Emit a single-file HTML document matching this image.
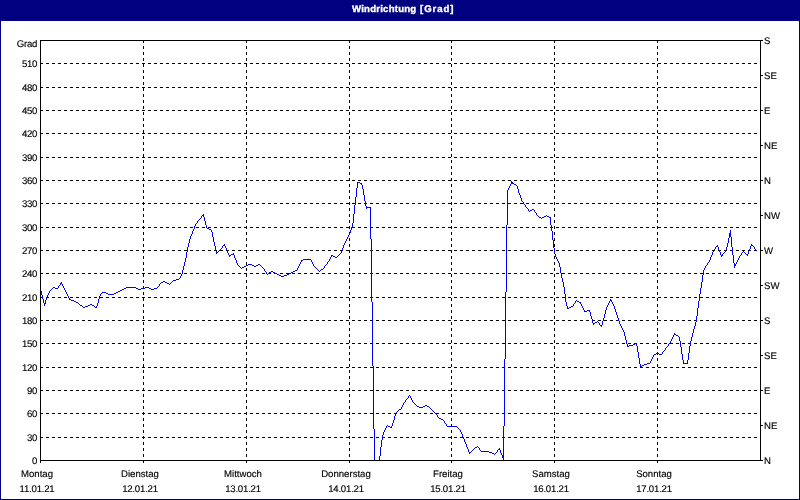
<!DOCTYPE html>
<html><head><meta charset="utf-8"><title>Windrichtung [Grad]</title>
<style>
html,body{margin:0;padding:0;background:#fff;}
body{width:800px;height:500px;overflow:hidden;position:relative;font-family:"Liberation Sans",sans-serif;}
#frame{position:absolute;left:0;top:0;width:798px;height:498px;border:1px solid #000080;background:#fff;}
#title{position:absolute;left:0;top:0;width:800px;height:21px;background:#000080;}
#title span{position:absolute;text-rendering:geometricPrecision;-webkit-text-stroke:0.35px #fff;top:-1px;color:#fff;font-weight:bold;font-size:9.6px;line-height:21px;height:21px;white-space:nowrap;will-change:transform;}
#t1{left:352px;letter-spacing:0.22px;}
#t2{left:420px;letter-spacing:0.95px;}
svg{position:absolute;left:0;top:0;}
.l{position:absolute;will-change:transform;text-rendering:geometricPrecision;-webkit-text-stroke:0.15px #000;font-size:9.6px;line-height:12px;height:12px;color:#000;white-space:nowrap;}
.yl{text-align:right;width:37px;left:0;}
.yr{left:764px;}
.xl{text-align:center;width:80px;letter-spacing:0px;}
.dt{letter-spacing:-0.2px;}
.yl{letter-spacing:-0.3px;}
</style></head><body>
<div id="frame"></div>
<div id="title"><span id="t1">Windrichtung</span><span id="t2">[Grad]</span></div>

<svg width="800" height="500" viewBox="0 0 800 500">
<g shape-rendering="crispEdges" stroke="#000" stroke-width="1" fill="none">
<line x1="40" y1="437.5" x2="757" y2="437.5" stroke-dasharray="3 3"/>
<line x1="40" y1="413.5" x2="757" y2="413.5" stroke-dasharray="3 3"/>
<line x1="40" y1="390.5" x2="757" y2="390.5" stroke-dasharray="3 3"/>
<line x1="40" y1="367.5" x2="757" y2="367.5" stroke-dasharray="3 3"/>
<line x1="40" y1="343.5" x2="757" y2="343.5" stroke-dasharray="3 3"/>
<line x1="40" y1="320.5" x2="757" y2="320.5" stroke-dasharray="3 3"/>
<line x1="40" y1="297.5" x2="757" y2="297.5" stroke-dasharray="3 3"/>
<line x1="40" y1="273.5" x2="757" y2="273.5" stroke-dasharray="3 3"/>
<line x1="40" y1="250.5" x2="757" y2="250.5" stroke-dasharray="3 3"/>
<line x1="40" y1="227.5" x2="757" y2="227.5" stroke-dasharray="3 3"/>
<line x1="40" y1="203.5" x2="757" y2="203.5" stroke-dasharray="3 3"/>
<line x1="40" y1="180.5" x2="757" y2="180.5" stroke-dasharray="3 3"/>
<line x1="40" y1="157.5" x2="757" y2="157.5" stroke-dasharray="3 3"/>
<line x1="40" y1="133.5" x2="757" y2="133.5" stroke-dasharray="3 3"/>
<line x1="40" y1="110.5" x2="757" y2="110.5" stroke-dasharray="3 3"/>
<line x1="40" y1="87.5" x2="757" y2="87.5" stroke-dasharray="3 3"/>
<line x1="40" y1="63.5" x2="757" y2="63.5" stroke-dasharray="3 3"/>
<line x1="143.5" y1="40" x2="143.5" y2="463" stroke-dasharray="3 3"/>
<line x1="246.5" y1="40" x2="246.5" y2="463" stroke-dasharray="3 3"/>
<line x1="349.5" y1="40" x2="349.5" y2="463" stroke-dasharray="3 3"/>
<line x1="451.5" y1="40" x2="451.5" y2="463" stroke-dasharray="3 3"/>
<line x1="554.5" y1="40" x2="554.5" y2="463" stroke-dasharray="3 3"/>
<line x1="657.5" y1="40" x2="657.5" y2="463" stroke-dasharray="3 3"/>
</g>
<path d="M40 290h1v1h-1zM41 291h1v4h-1zM42 295h1v4h-1zM43 299h1v4h-1zM44 303h1v3h-1zM45 300h1v4h-1zM46 297h1v3h-1zM47 295h1v2h-1zM48 293h1v2h-1zM49 291h1v2h-1zM50 290h1v1h-1zM51 289h1v1h-1zM52 288h1v1h-1zM53 287h2v1h-2zM55 288h3v1h-3zM58 286h1v2h-1zM59 285h1v1h-1zM60 283h1v2h-1zM61 282h1v2h-1zM62 284h1v2h-1zM63 286h1v2h-1zM64 288h1v2h-1zM65 290h1v2h-1zM66 292h1v2h-1zM67 294h1v2h-1zM68 296h1v2h-1zM69 298h1v2h-1zM70 299h1v1h-1zM71 300h3v1h-3zM74 301h2v1h-2zM76 302h2v1h-2zM78 303h1v1h-1zM79 304h1v1h-1zM80 305h2v1h-2zM82 306h1v1h-1zM83 307h2v1h-2zM85 306h3v1h-3zM88 305h2v1h-2zM90 304h2v1h-2zM92 305h2v1h-2zM94 306h1v1h-1zM95 307h1v1h-1zM96 306h1v2h-1zM97 303h1v3h-1zM98 299h1v4h-1zM99 296h1v3h-1zM100 294h1v2h-1zM101 293h1v1h-1zM102 292h4v1h-4zM106 293h2v1h-2zM108 294h6v1h-6zM114 293h2v1h-2zM116 292h2v1h-2zM118 291h2v1h-2zM120 290h2v1h-2zM122 289h2v1h-2zM124 288h2v1h-2zM126 287h10v1h-10zM136 288h2v1h-2zM138 289h3v1h-3zM141 288h4v1h-4zM145 287h4v1h-4zM149 288h2v1h-2zM151 289h3v1h-3zM154 288h3v1h-3zM157 287h1v1h-1zM158 286h1v1h-1zM159 284h1v2h-1zM160 283h1v1h-1zM161 282h2v1h-2zM163 281h2v1h-2zM165 282h2v1h-2zM167 283h2v1h-2zM169 284h1v1h-1zM170 283h1v1h-1zM171 282h1v1h-1zM172 281h1v1h-1zM173 280h3v1h-3zM176 279h3v1h-3zM179 278h1v1h-1zM180 276h1v2h-1zM181 274h1v2h-1zM182 270h1v4h-1zM183 266h1v4h-1zM184 262h1v4h-1zM185 258h1v4h-1zM186 252h1v6h-1zM187 247h1v5h-1zM188 243h1v4h-1zM189 239h1v4h-1zM190 236h1v3h-1zM191 234h1v2h-1zM192 231h1v3h-1zM193 229h1v2h-1zM194 226h1v3h-1zM195 224h1v2h-1zM196 223h1v1h-1zM197 221h1v2h-1zM198 220h1v1h-1zM199 219h1v1h-1zM200 218h1v1h-1zM201 216h1v2h-1zM202 215h1v1h-1zM203 214h1v3h-1zM204 217h1v4h-1zM205 221h1v4h-1zM206 225h1v3h-1zM207 228h2v1h-2zM209 229h2v1h-2zM211 230h1v2h-1zM212 232h1v5h-1zM213 237h1v5h-1zM214 242h1v4h-1zM215 246h1v5h-1zM216 251h1v3h-1zM217 252h1v1h-1zM218 251h1v1h-1zM219 250h1v1h-1zM220 249h1v1h-1zM221 248h1v1h-1zM222 246h1v2h-1zM223 245h1v1h-1zM224 244h1v2h-1zM225 246h1v2h-1zM226 248h1v2h-1zM227 250h1v3h-1zM228 253h1v2h-1zM229 255h1v2h-1zM230 255h1v1h-1zM231 254h2v1h-2zM233 253h1v2h-1zM234 255h1v3h-1zM235 258h1v2h-1zM236 260h1v3h-1zM237 263h1v2h-1zM238 265h1v1h-1zM239 266h1v1h-1zM240 267h1v1h-1zM241 268h1v1h-1zM242 267h2v1h-2zM244 266h2v1h-2zM246 265h2v1h-2zM248 264h4v1h-4zM252 265h2v1h-2zM254 266h2v1h-2zM256 265h2v1h-2zM258 264h2v1h-2zM260 265h1v1h-1zM261 266h1v1h-1zM262 267h1v1h-1zM263 268h1v1h-1zM264 269h1v2h-1zM265 271h1v1h-1zM266 272h1v2h-1zM267 274h1v1h-1zM268 273h1v1h-1zM269 272h2v1h-2zM271 271h2v1h-2zM273 272h2v1h-2zM275 273h2v1h-2zM277 274h2v1h-2zM279 275h2v1h-2zM281 276h3v1h-3zM284 275h3v1h-3zM287 274h2v1h-2zM289 273h2v1h-2zM291 272h2v1h-2zM293 271h2v1h-2zM295 270h2v1h-2zM297 268h1v2h-1zM298 266h1v2h-1zM299 264h1v2h-1zM300 262h1v2h-1zM301 260h1v2h-1zM302 260h1v1h-1zM303 259h8v1h-8zM311 260h1v2h-1zM312 262h1v2h-1zM313 264h1v2h-1zM314 266h1v1h-1zM315 267h1v1h-1zM316 268h1v1h-1zM317 269h1v1h-1zM318 270h1v1h-1zM319 271h1v1h-1zM320 270h1v1h-1zM321 269h2v1h-2zM323 268h1v1h-1zM324 266h1v2h-1zM325 265h1v1h-1zM326 264h1v1h-1zM327 262h1v2h-1zM328 261h1v1h-1zM329 259h1v2h-1zM330 257h1v2h-1zM331 255h1v2h-1zM332 255h1v1h-1zM333 256h2v1h-2zM335 257h2v1h-2zM337 256h1v1h-1zM338 255h1v1h-1zM339 254h1v1h-1zM340 253h1v1h-1zM341 251h1v2h-1zM342 248h1v3h-1zM343 245h1v3h-1zM344 243h1v2h-1zM345 241h1v2h-1zM346 239h1v2h-1zM347 237h1v2h-1zM348 235h1v2h-1zM349 233h1v2h-1zM350 230h1v3h-1zM351 227h1v3h-1zM352 223h1v4h-1zM353 214h1v9h-1zM354 205h1v9h-1zM355 197h1v8h-1zM356 188h1v9h-1zM357 182h1v6h-1zM358 182h2v1h-2zM360 183h1v1h-1zM361 183h1v2h-1zM362 185h1v4h-1zM363 189h1v6h-1zM364 195h1v6h-1zM365 201h1v5h-1zM366 206h1v3h-1zM367 207h3v1h-3zM370 207h1v32h-1zM371 239h1v63h-1zM372 302h1v64h-1zM373 366h1v63h-1zM374 429h1v32h-1zM375 460h4v1h-4zM379 456h1v5h-1zM380 447h1v9h-1zM381 440h1v7h-1zM382 435h1v5h-1zM383 432h1v3h-1zM384 430h1v2h-1zM385 428h1v2h-1zM386 426h1v2h-1zM387 425h1v1h-1zM388 426h2v1h-2zM390 427h1v1h-1zM391 426h1v2h-1zM392 423h1v3h-1zM393 420h1v3h-1zM394 416h1v4h-1zM395 413h1v3h-1zM396 412h1v1h-1zM397 411h1v1h-1zM398 410h1v1h-1zM399 409h2v1h-2zM401 407h1v2h-1zM402 405h1v2h-1zM403 403h1v2h-1zM404 402h1v1h-1zM405 400h1v2h-1zM406 399h1v1h-1zM407 398h1v1h-1zM408 396h1v2h-1zM409 395h1v1h-1zM410 396h1v2h-1zM411 398h1v2h-1zM412 400h1v2h-1zM413 402h1v1h-1zM414 403h1v1h-1zM415 404h1v1h-1zM416 405h1v1h-1zM417 406h2v1h-2zM419 407h4v1h-4zM423 406h2v1h-2zM425 405h2v1h-2zM427 406h2v1h-2zM429 407h1v1h-1zM430 408h1v1h-1zM431 409h1v1h-1zM432 410h1v1h-1zM433 411h1v1h-1zM434 412h1v1h-1zM435 413h1v1h-1zM436 414h1v1h-1zM437 415h1v2h-1zM438 417h1v1h-1zM439 418h2v1h-2zM441 419h2v1h-2zM443 420h1v1h-1zM444 421h1v2h-1zM445 423h1v1h-1zM446 424h1v2h-1zM447 426h10v1h-10zM457 427h1v1h-1zM458 428h1v1h-1zM459 429h1v1h-1zM460 430h1v2h-1zM461 432h1v2h-1zM462 434h1v3h-1zM463 437h1v2h-1zM464 439h1v3h-1zM465 442h1v2h-1zM466 444h1v3h-1zM467 447h1v2h-1zM468 449h1v3h-1zM469 452h1v2h-1zM470 452h1v1h-1zM471 451h1v1h-1zM472 450h1v1h-1zM473 449h1v1h-1zM474 448h1v1h-1zM475 447h2v1h-2zM477 446h1v1h-1zM478 447h1v1h-1zM479 448h1v2h-1zM480 450h1v1h-1zM481 451h8v1h-8zM489 452h3v1h-3zM492 453h2v1h-2zM494 454h1v1h-1zM495 453h1v1h-1zM496 452h1v1h-1zM497 450h1v2h-1zM498 449h1v1h-1zM499 448h1v2h-1zM500 450h1v3h-1zM501 453h1v2h-1zM502 455h1v3h-1zM503 426h1v34h-1zM504 359h1v67h-1zM505 292h1v67h-1zM506 225h1v67h-1zM507 190h1v35h-1zM508 188h1v2h-1zM509 186h1v2h-1zM510 184h1v2h-1zM511 181h1v3h-1zM512 182h1v2h-1zM513 183h1v1h-1zM514 184h2v1h-2zM516 185h1v1h-1zM517 186h1v3h-1zM518 189h1v4h-1zM519 193h1v2h-1zM520 195h1v3h-1zM521 198h1v3h-1zM522 201h1v1h-1zM523 202h1v2h-1zM524 204h1v1h-1zM525 205h1v2h-1zM526 207h1v1h-1zM527 208h1v1h-1zM528 209h1v2h-1zM529 211h1v1h-1zM530 210h2v1h-2zM532 209h2v1h-2zM534 210h1v2h-1zM535 212h1v1h-1zM536 213h1v2h-1zM537 215h1v1h-1zM538 216h1v1h-1zM539 217h2v1h-2zM541 218h1v1h-1zM542 217h2v1h-2zM544 216h2v1h-2zM546 215h1v1h-1zM547 216h2v1h-2zM549 217h1v1h-1zM550 217h1v8h-1zM551 225h1v6h-1zM552 231h1v9h-1zM553 240h1v8h-1zM554 248h1v6h-1zM555 254h1v3h-1zM556 257h1v2h-1zM557 259h1v2h-1zM558 261h1v2h-1zM559 263h1v4h-1zM560 267h1v6h-1zM561 273h1v5h-1zM562 278h1v4h-1zM563 282h1v5h-1zM564 287h1v7h-1zM565 294h1v8h-1zM566 302h1v4h-1zM567 306h1v3h-1zM568 308h1v1h-1zM569 307h2v1h-2zM571 306h2v1h-2zM573 304h1v2h-1zM574 303h1v1h-1zM575 301h1v2h-1zM576 300h1v1h-1zM577 301h2v1h-2zM579 302h1v1h-1zM580 302h1v2h-1zM581 304h1v2h-1zM582 306h1v2h-1zM583 308h1v2h-1zM584 310h1v2h-1zM585 311h2v1h-2zM587 310h2v1h-2zM589 310h1v2h-1zM590 312h1v4h-1zM591 316h1v3h-1zM592 319h1v4h-1zM593 323h1v2h-1zM594 323h1v1h-1zM595 322h2v1h-2zM597 321h1v1h-1zM598 322h1v1h-1zM599 323h1v2h-1zM600 325h1v1h-1zM601 325h1v2h-1zM602 321h1v4h-1zM603 318h1v3h-1zM604 314h1v4h-1zM605 310h1v4h-1zM606 307h1v3h-1zM607 305h1v2h-1zM608 303h1v2h-1zM609 301h1v2h-1zM610 299h1v2h-1zM611 300h1v2h-1zM612 302h1v2h-1zM613 304h1v2h-1zM614 306h1v3h-1zM615 309h1v3h-1zM616 312h1v3h-1zM617 315h1v3h-1zM618 318h1v3h-1zM619 321h1v3h-1zM620 324h1v2h-1zM621 326h1v2h-1zM622 328h1v2h-1zM623 330h1v2h-1zM624 332h1v4h-1zM625 336h1v4h-1zM626 340h1v4h-1zM627 344h1v3h-1zM628 346h1v1h-1zM629 345h4v1h-4zM633 344h2v1h-2zM635 343h1v1h-1zM636 343h1v3h-1zM637 346h1v6h-1zM638 352h1v6h-1zM639 358h1v6h-1zM640 364h1v3h-1zM641 366h1v1h-1zM642 365h2v1h-2zM644 364h3v1h-3zM647 363h3v1h-3zM650 361h1v2h-1zM651 359h1v2h-1zM652 357h1v2h-1zM653 355h1v2h-1zM654 354h2v1h-2zM656 353h3v1h-3zM659 354h3v1h-3zM662 352h1v2h-1zM663 351h1v1h-1zM664 350h1v1h-1zM665 348h1v2h-1zM666 347h1v1h-1zM667 346h1v1h-1zM668 344h1v2h-1zM669 343h1v1h-1zM670 341h1v2h-1zM671 339h1v2h-1zM672 337h1v2h-1zM673 335h1v2h-1zM674 333h1v2h-1zM675 334h1v1h-1zM676 335h2v1h-2zM678 336h1v1h-1zM679 337h1v4h-1zM680 341h1v6h-1zM681 347h1v7h-1zM682 354h1v6h-1zM683 360h1v4h-1zM684 363h3v1h-3zM687 360h1v4h-1zM688 353h1v7h-1zM689 346h1v7h-1zM690 341h1v5h-1zM691 337h1v4h-1zM692 333h1v4h-1zM693 329h1v4h-1zM694 326h1v3h-1zM695 322h1v4h-1zM696 316h1v6h-1zM697 308h1v8h-1zM698 301h1v7h-1zM699 294h1v7h-1zM700 288h1v6h-1zM701 282h1v6h-1zM702 275h1v7h-1zM703 270h1v5h-1zM704 268h1v2h-1zM705 266h1v2h-1zM706 265h1v1h-1zM707 263h1v2h-1zM708 262h1v1h-1zM709 260h1v2h-1zM710 257h1v3h-1zM711 255h1v2h-1zM712 252h1v3h-1zM713 250h1v2h-1zM714 249h1v1h-1zM715 247h1v2h-1zM716 246h1v1h-1zM717 245h1v2h-1zM718 247h1v3h-1zM719 250h1v2h-1zM720 252h1v3h-1zM721 255h1v2h-1zM722 254h1v2h-1zM723 253h1v1h-1zM724 252h1v1h-1zM725 250h1v2h-1zM726 247h1v3h-1zM727 243h1v4h-1zM728 238h1v5h-1zM729 233h1v5h-1zM730 230h1v7h-1zM731 237h1v10h-1zM732 247h1v8h-1zM733 255h1v8h-1zM734 263h1v5h-1zM735 264h1v2h-1zM736 262h1v2h-1zM737 260h1v2h-1zM738 258h1v2h-1zM739 256h1v2h-1zM740 255h1v1h-1zM741 253h1v2h-1zM742 252h1v1h-1zM743 251h1v1h-1zM744 252h1v1h-1zM745 253h1v1h-1zM746 254h1v1h-1zM747 254h1v2h-1zM748 251h1v3h-1zM749 249h1v2h-1zM750 246h1v3h-1zM751 244h1v2h-1zM752 245h1v1h-1zM753 246h1v1h-1zM754 247h1v2h-1zM755 249h1v1h-1zM756 250h1v1h-1z" fill="#0000ff" stroke="none" shape-rendering="crispEdges"/>
<g shape-rendering="crispEdges" stroke="#000" stroke-width="1" fill="none">
<line x1="40.5" y1="40" x2="40.5" y2="463"/>
<line x1="760.5" y1="40" x2="760.5" y2="461"/>
<line x1="40" y1="40.5" x2="763" y2="40.5"/>
<line x1="40" y1="460.5" x2="763" y2="460.5"/>
<line x1="760" y1="75.5" x2="763" y2="75.5"/>
<line x1="760" y1="110.5" x2="763" y2="110.5"/>
<line x1="760" y1="145.5" x2="763" y2="145.5"/>
<line x1="760" y1="180.5" x2="763" y2="180.5"/>
<line x1="760" y1="215.5" x2="763" y2="215.5"/>
<line x1="760" y1="250.5" x2="763" y2="250.5"/>
<line x1="760" y1="285.5" x2="763" y2="285.5"/>
<line x1="760" y1="320.5" x2="763" y2="320.5"/>
<line x1="760" y1="355.5" x2="763" y2="355.5"/>
<line x1="760" y1="390.5" x2="763" y2="390.5"/>
<line x1="760" y1="425.5" x2="763" y2="425.5"/>
</g>
</svg>
<div class="l yl" style="top:39px">Grad</div>
<div class="l yl" style="top:460px;margin-top:-4px">0</div>
<div class="l yl" style="top:437px;margin-top:-4px">30</div>
<div class="l yl" style="top:413px;margin-top:-4px">60</div>
<div class="l yl" style="top:390px;margin-top:-4px">90</div>
<div class="l yl" style="top:367px;margin-top:-4px">120</div>
<div class="l yl" style="top:343px;margin-top:-4px">150</div>
<div class="l yl" style="top:320px;margin-top:-4px">180</div>
<div class="l yl" style="top:297px;margin-top:-4px">210</div>
<div class="l yl" style="top:273px;margin-top:-4px">240</div>
<div class="l yl" style="top:250px;margin-top:-4px">270</div>
<div class="l yl" style="top:227px;margin-top:-4px">300</div>
<div class="l yl" style="top:203px;margin-top:-4px">330</div>
<div class="l yl" style="top:180px;margin-top:-4px">360</div>
<div class="l yl" style="top:157px;margin-top:-4px">390</div>
<div class="l yl" style="top:133px;margin-top:-4px">420</div>
<div class="l yl" style="top:110px;margin-top:-4px">450</div>
<div class="l yl" style="top:87px;margin-top:-4px">480</div>
<div class="l yl" style="top:63px;margin-top:-4px">510</div>
<div class="l yr" style="top:40px;margin-top:-4px">S</div>
<div class="l yr" style="top:75px;margin-top:-4px">SE</div>
<div class="l yr" style="top:110px;margin-top:-4px">E</div>
<div class="l yr" style="top:145px;margin-top:-4px">NE</div>
<div class="l yr" style="top:180px;margin-top:-4px">N</div>
<div class="l yr" style="top:215px;margin-top:-4px">NW</div>
<div class="l yr" style="top:250px;margin-top:-4px">W</div>
<div class="l yr" style="top:285px;margin-top:-4px">SW</div>
<div class="l yr" style="top:320px;margin-top:-4px">S</div>
<div class="l yr" style="top:355px;margin-top:-4px">SE</div>
<div class="l yr" style="top:390px;margin-top:-4px">E</div>
<div class="l yr" style="top:425px;margin-top:-4px">NE</div>
<div class="l yr" style="top:460px;margin-top:-4px">N</div>
<div class="l xl" style="left:-3px;top:469px">Montag</div>
<div class="l xl dt" style="left:-3px;top:484px">11.01.21</div>
<div class="l xl" style="left:100px;top:469px">Dienstag</div>
<div class="l xl dt" style="left:100px;top:484px">12.01.21</div>
<div class="l xl" style="left:203px;top:469px">Mittwoch</div>
<div class="l xl dt" style="left:203px;top:484px">13.01.21</div>
<div class="l xl" style="left:306px;top:469px">Donnerstag</div>
<div class="l xl dt" style="left:306px;top:484px">14.01.21</div>
<div class="l xl" style="left:408px;top:469px">Freitag</div>
<div class="l xl dt" style="left:408px;top:484px">15.01.21</div>
<div class="l xl" style="left:511px;top:469px">Samstag</div>
<div class="l xl dt" style="left:511px;top:484px">16.01.21</div>
<div class="l xl" style="left:614px;top:469px">Sonntag</div>
<div class="l xl dt" style="left:614px;top:484px">17.01.21</div>
</body></html>
